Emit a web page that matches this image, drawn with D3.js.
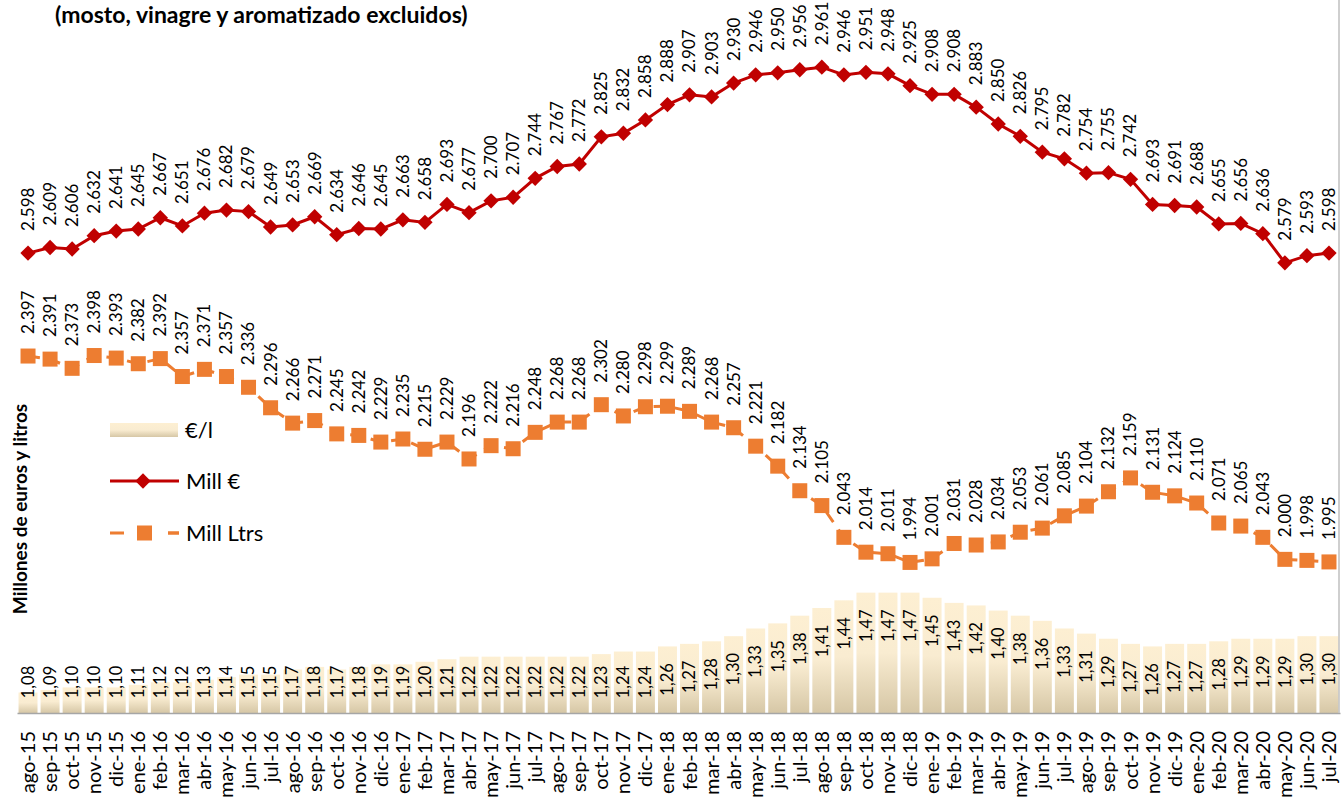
<!DOCTYPE html>
<head>
<meta charset="utf-8">
<script src="https://d3js.org/d3.v7.min.js"></script>
<style>
  body { margin: 0; background: #fff; }
  text { font-family: Lato, "Noto Sans", sans-serif; fill: #000; }
</style>
</head>
<body>
<div id="datavis"></div>

<script type="text/javascript">
// months on the x axis
var months = [
  "ago-15","sep-15","oct-15","nov-15","dic-15","ene-16","feb-16","mar-16","abr-16","may-16","jun-16","jul-16",
  "ago-16","sep-16","oct-16","nov-16","dic-16","ene-17","feb-17","mar-17","abr-17","may-17","jun-17","jul-17",
  "ago-17","sep-17","oct-17","nov-17","dic-17","ene-18","feb-18","mar-18","abr-18","may-18","jun-18","jul-18",
  "ago-18","sep-18","oct-18","nov-18","dic-18","ene-19","feb-19","mar-19","abr-19","may-19","jun-19","jul-19",
  "ago-19","sep-19","oct-19","nov-19","dic-19","ene-20","feb-20","mar-20","abr-20","may-20","jun-20","jul-20"
];

// Mill €
var millEuros = [
  2598, 2609, 2606, 2632, 2641, 2645, 2667, 2651, 2676, 2682, 2679, 2649,
  2653, 2669, 2634, 2646, 2645, 2663, 2658, 2693, 2677, 2700, 2707, 2744,
  2767, 2772, 2825, 2832, 2858, 2888, 2907, 2903, 2930, 2946, 2950, 2956,
  2961, 2946, 2951, 2948, 2925, 2908, 2908, 2883, 2850, 2826, 2795, 2782,
  2754, 2755, 2742, 2693, 2691, 2688, 2655, 2656, 2636, 2579, 2593, 2598
];

// Mill Ltrs
var millLitros = [
  2397, 2391, 2373, 2398, 2393, 2382, 2392, 2357, 2371, 2357, 2336, 2296,
  2266, 2271, 2245, 2242, 2229, 2235, 2215, 2229, 2196, 2222, 2216, 2248,
  2268, 2268, 2302, 2280, 2298, 2299, 2289, 2268, 2257, 2221, 2182, 2134,
  2105, 2043, 2014, 2011, 1994, 2001, 2031, 2028, 2034, 2053, 2061, 2085,
  2104, 2132, 2159, 2131, 2124, 2110, 2071, 2065, 2043, 2000, 1998, 1995
];

// €/l
var eurosLitro = [
  1.08, 1.09, 1.10, 1.10, 1.10, 1.11, 1.12, 1.12, 1.13, 1.14, 1.15, 1.15,
  1.17, 1.18, 1.17, 1.18, 1.19, 1.19, 1.20, 1.21, 1.22, 1.22, 1.22, 1.22,
  1.22, 1.22, 1.23, 1.24, 1.24, 1.26, 1.27, 1.28, 1.30, 1.33, 1.35, 1.38,
  1.41, 1.44, 1.47, 1.47, 1.47, 1.45, 1.43, 1.42, 1.40, 1.38, 1.36, 1.33,
  1.31, 1.29, 1.27, 1.26, 1.27, 1.27, 1.28, 1.29, 1.29, 1.29, 1.30, 1.30
];

var W = 1341, H = 799;
var esES = d3.formatLocale({decimal: ",", thousands: ".", grouping: [3], currency: ["", " €"]});
var fmtMill = esES.format(",d");
var fmtEur = esES.format(".2f");

var svg = d3.select("#datavis").append("svg")
    .attr("width", W).attr("height", H);

var defs = svg.append("defs");
var grad = defs.append("linearGradient").attr("id", "barGrad")
    .attr("x1", 0).attr("y1", 0).attr("x2", 0).attr("y2", 1);
grad.append("stop").attr("offset", "0%").attr("stop-color", "#fdefd2");
grad.append("stop").attr("offset", "50%").attr("stop-color", "#f9ecd1");
grad.append("stop").attr("offset", "100%").attr("stop-color", "#d6c7a6");

// scales
var baseY = 713;
var x = d3.scaleBand().domain(months).range([17, 1340])
    .paddingInner(0.14).paddingOuter(0.07);
var cx = function(d, i) { return x(months[i]) + x.bandwidth() / 2; };
var yL = d3.scaleLinear().domain([1700, 3100]).range([baseY, -4]);
var yB = d3.scaleLinear().domain([1.0, 3.8]).range([baseY, -4]);

// bars €/l
svg.append("g").selectAll("rect")
  .data(eurosLitro).join("rect")
    .attr("x", function(d, i) { return x(months[i]); })
    .attr("y", function(d) { return yB(d); })
    .attr("width", x.bandwidth())
    .attr("height", function(d) { return baseY - yB(d); })
    .attr("fill", "url(#barGrad)");

svg.append("g").selectAll("text")
  .data(eurosLitro).join("text")
    .attr("transform", function(d, i) {
      var cy = Math.min(yB(d) + 33, 682);
      return "translate(" + cx(d, i) + "," + cy + ") rotate(-90)";
    })
    .attr("text-anchor", "middle")
    .attr("dy", "0.35em")
    .style("font-size", "16.5px")
    .text(function(d) { return fmtEur(d); });

// x axis
var xAxis = svg.append("g")
    .attr("transform", "translate(0," + baseY + ")")
    .call(d3.axisBottom(x).tickSize(0).tickSizeOuter(0));
xAxis.select(".domain").attr("stroke", "#a6a6a6").attr("stroke-width", 1.5);
xAxis.selectAll("text")
    .attr("y", 0).attr("x", -18).attr("dy", "0.35em")
    .attr("transform", "rotate(-90)")
    .style("text-anchor", "end")
    .style("font-family", "Lato, sans-serif")
    .style("font-size", "20px")
    .attr("fill", "#000");

// right border of plot area
svg.append("line")
    .attr("x1", 1339).attr("x2", 1339).attr("y1", 0).attr("y2", baseY)
    .attr("stroke", "#bfbfbf").attr("stroke-width", 1.5);

// Mill Ltrs line
var line = function(vals) {
  return d3.line().x(function(d, i) { return cx(d, i); }).y(function(d) { return yL(d); })(vals);
};
svg.append("path")
    .attr("d", line(millLitros))
    .attr("fill", "none").attr("stroke", "#ed7d31")
    .attr("stroke-width", 3).attr("stroke-dasharray", "12,9");
svg.append("g").selectAll("rect")
  .data(millLitros).join("rect")
    .attr("x", function(d, i) { return cx(d, i) - 7.5; })
    .attr("y", function(d) { return yL(d) - 7.5; })
    .attr("width", 15).attr("height", 15)
    .attr("fill", "#ed7d31");

// Mill € line
svg.append("path")
    .attr("d", line(millEuros))
    .attr("fill", "none").attr("stroke", "#c00000")
    .attr("stroke-width", 3);
var diamond = d3.symbol().type(d3.symbolDiamond2).size(150);
svg.append("g").selectAll("path")
  .data(millEuros).join("path")
    .attr("transform", function(d, i) { return "translate(" + cx(d, i) + "," + yL(d) + ")"; })
    .attr("d", diamond)
    .attr("fill", "#c00000");

// value labels on the lines
[millEuros, millLitros].forEach(function(vals) {
  svg.append("g").selectAll("text")
    .data(vals).join("text")
      .attr("transform", function(d, i) {
        return "translate(" + cx(d, i) + "," + (yL(d) - 22) + ") rotate(-90)";
      })
      .attr("dy", "0.35em")
      .style("font-size", "17px")
      .text(function(d) { return fmtMill(d); });
});

// legend
var lg = svg.append("g").style("font-size", "22px");
lg.append("rect").attr("x", 110).attr("y", 423).attr("width", 68).attr("height", 14)
    .attr("fill", "url(#barGrad)");
lg.append("text").attr("x", 185).attr("y", 430).attr("dy", "0.35em").text("€/l");

lg.append("line").attr("x1", 110).attr("x2", 179).attr("y1", 481).attr("y2", 481)
    .attr("stroke", "#c00000").attr("stroke-width", 3);
lg.append("path").attr("transform", "translate(143,481)").attr("d", diamond).attr("fill", "#c00000");
lg.append("text").attr("x", 186).attr("y", 481).attr("dy", "0.35em").text("Mill €");

lg.append("line").attr("x1", 110).attr("x2", 179).attr("y1", 533).attr("y2", 533)
    .attr("stroke", "#ed7d31").attr("stroke-width", 3).attr("stroke-dasharray", "14,44");
lg.append("line").attr("x1", 168).attr("x2", 179).attr("y1", 533).attr("y2", 533)
    .attr("stroke", "#ed7d31").attr("stroke-width", 3);
lg.append("rect").attr("x", 137).attr("y", 525.5).attr("width", 15).attr("height", 15).attr("fill", "#ed7d31");
lg.append("text").attr("x", 186).attr("y", 533).attr("dy", "0.35em").text("Mill Ltrs");

// titles
svg.append("text")
    .attr("x", 55).attr("y", 23)
    .style("font-size", "23px").style("font-weight", "bold")
    .text("(mosto, vinagre y aromatizado excluidos)");

svg.append("text")
    .attr("transform", "translate(20,509) rotate(-90)")
    .attr("text-anchor", "middle").attr("dy", "0.35em")
    .style("font-size", "19px").style("font-weight", "bold")
    .text("Millones de euros y litros");
</script>
</body>
